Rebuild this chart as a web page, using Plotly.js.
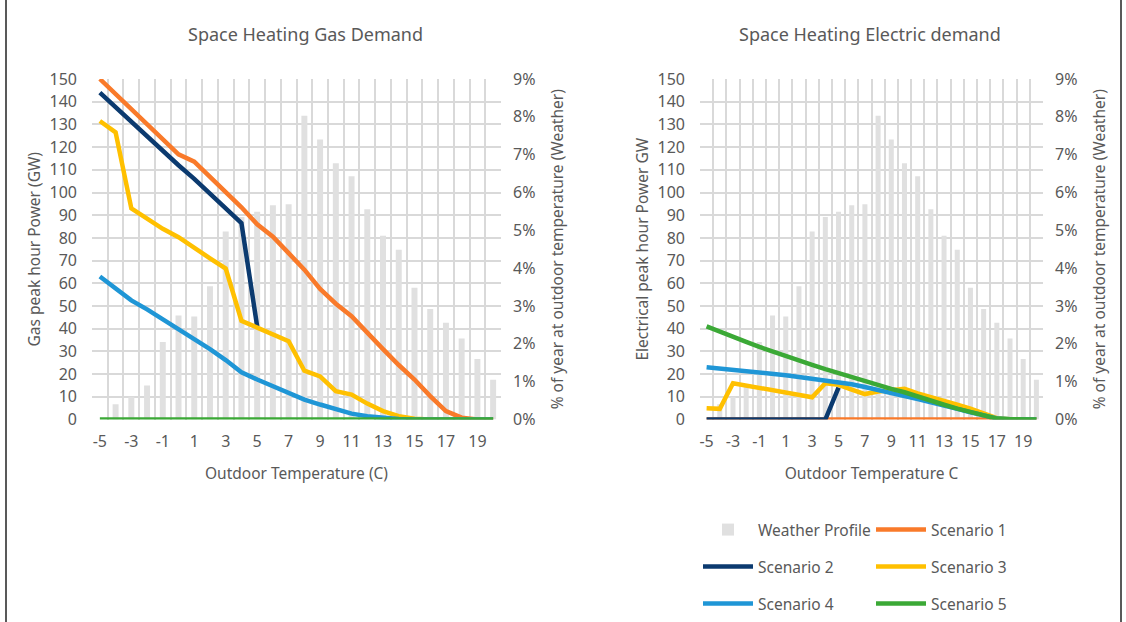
<!DOCTYPE html>
<html>
<head>
<meta charset="utf-8">
<script src="https://cdn.plot.ly/plotly-3.0.1.min.js"></script>
<style>html,body{margin:0;padding:0;background:#fff;overflow:hidden;}#chart{width:1126px;height:622px;}</style>
</head>
<body>
<div id="chart"></div>
<script>
// Outdoor temperature categories (C)
const temps = [-5,-4,-3,-2,-1,0,1,2,3,4,5,6,7,8,9,10,11,12,13,14,15,16,17,18,19,20];
const tickTemps = [-5,-3,-1,1,3,5,7,9,11,13,15,17,19];
const tickLabels = ['-5','-3','-1','1','3','5','7','9','11','13','15','17','19'];

// Weather profile: share of year at each outdoor temperature
const weatherProfile = [0.000,0.004,0.006,0.009,0.0205,0.0275,0.0272,0.0352,0.0497,0.0535,0.0549,0.0566,0.0569,0.0803,0.0740,0.0677,0.0643,0.0556,0.0486,0.0449,0.0348,0.0292,0.0256,0.0214,0.0160,0.0105];

// Space heating gas demand (GW)
const gasS1 = [150,143.3,136.6,130,123.3,116.8,113.6,107,100.5,93.5,86,80.5,73.3,66,57.5,51,45.5,38,31,24,17.6,10.3,3.7,0.8,0,0];
const gasS2 = [144,137.5,131,124.5,118,112,106,99.5,92.5,86.5,41,null,null,null,null,null,null,null,null,null,null,null,null,null,null,null];
const gasS3 = [131.5,126.5,93,88.5,84,80.3,75.5,71,66.5,43.5,40.5,37.5,34.5,21.5,19,12.5,11,7,3.7,1.5,0.3,0,0,0,0,0];
const gasS4 = [63,58,52.5,48.5,44.2,39.8,35.5,31,26.2,20.8,17.6,14.5,11.5,8.8,6.6,4.4,2.6,1.4,0.6,0.2,0,0,0,0,0,0];
const gasS5 = [0,0,0,0,0,0,0,0,0,0,0,0,0,0,0,0,0,0,0,0,0,0,0,0,0,0];

// Space heating electric demand (GW)
const elecS1 = [0,0,0,0,0,0,0,0,0,0,0,0,0,0,0,0,0,0,0,0,0,0,0,0,0,0];
const elecS2 = [0,0,0,0,0,0,0,0,0,0,14,null,null,null,null,null,null,null,null,null,null,null,null,null,null,null];
const elecS3 = [5,4.7,16,15,13.8,12.8,12,11,9.8,16,15.3,13.2,11.2,12.3,13,13.5,11.5,10,8.2,6.5,4.8,2.5,0.6,0.1,0,0];
const elecS4 = [23,22.5,22,21.5,20.8,20.2,19.5,18.7,17.9,17.2,16.5,15.5,14.3,12.8,11.5,10.3,9,7.7,6.2,4.7,3.2,1.8,0.5,0.1,0,0];
const elecS5 = [41,38.6,36.4,34.2,32,29.9,27.9,26,24.1,22.2,20.4,18.6,16.9,15.2,13.5,12,10,8.2,6.5,4.8,3.5,1.8,0.4,0.1,0,0];

const seriesNames = ['Scenario 1','Scenario 2','Scenario 3','Scenario 4','Scenario 5'];
const seriesColors = ['#F97A2A','#0B3A6F','#FFC000','#1F96D6','#3BA936'];
const legendOf = ['legend','legend2','legend2','legend3','legend3'];

const gasSeries = [gasS1,gasS2,gasS3,gasS4,gasS5];
const elecSeries = [elecS1,elecS2,elecS3,elecS4,elecS5];

const FONT = 'Noto Sans, Open Sans, sans-serif';
const TXT = '#595959';
const GRID = '#d9d9d9';
const BAR = '#e0e0e0';

const traces = [];
traces.push({type:'bar', name:'Weather Profile', x:temps, y:weatherProfile, xaxis:'x', yaxis:'y',
  marker:{color:BAR}, width:0.38, showlegend:false, legend:'legend', hoverinfo:'skip'});
gasSeries.forEach((s,i)=>traces.push({type:'scatter', mode:'lines', name:seriesNames[i], x:temps, y:s,
  xaxis:'x', yaxis:'y2', line:{color:seriesColors[i], width:4.5}, showlegend:false, legend:legendOf[i]}));
traces.push({type:'bar', name:'Weather Profile', x:temps, y:weatherProfile, xaxis:'x2', yaxis:'y3',
  marker:{color:BAR}, width:0.38, showlegend:true, legend:'legend'});
elecSeries.forEach((s,i)=>traces.push({type:'scatter', mode:'lines', name:seriesNames[i], x:temps, y:s,
  xaxis:'x2', yaxis:'y4', line:{color:seriesColors[i], width:4.5}, showlegend:true, legend:legendOf[i]}));

const yDom = [1-419.5/622, 1-79/622];
function xAx(dom, anchor, title){
  return {domain:dom, anchor:anchor, range:[-5.5,20.5], tickvals:tickTemps, ticktext:tickLabels, ticks:'', showgrid:false,
    zeroline:false, showline:false, automargin:false, ticklabelstandoff:10, tickfont:{size:16,color:TXT}, fixedrange:true,
    minor:{tick0:-5.5, dtick:1, showgrid:true, gridcolor:GRID, gridwidth:2, ticks:''},
    title:{text:title, font:{size:15.5,color:TXT}, standoff:17}};
}
function pctAx(anchor){
  return {domain:yDom, anchor:anchor, side:'right', range:[0,0.09], dtick:0.01, tickformat:'.0%',
    showgrid:false, zeroline:false, ticks:'', automargin:false, ticklabelstandoff:11, tickfont:{size:16,color:TXT},
    title:{text:'% of year at outdoor temperature (Weather)', font:{size:15.5,color:TXT}, standoff:17}};
}
function gwAx(anchor, overlay, title){
  return {domain:yDom, anchor:anchor, overlaying:overlay, side:'left', range:[0,150], dtick:10,
    showgrid:true, gridcolor:GRID, gridwidth:2, zeroline:false, ticks:'', automargin:false, ticklabelstandoff:14,
    tickfont:{size:16,color:TXT}, title:{text:title, font:{size:15.5,color:TXT}, standoff:5}};
}
function leg(yrow){
  return {x:698/1126, y:yrow, xanchor:'left', yanchor:'middle', orientation:'h', entrywidth:108,
    entrywidthmode:'pixels', itemwidth:50, font:{size:15.5,color:TXT}, bgcolor:'rgba(0,0,0,0)', traceorder:'normal'};
}

const layout = {
  width:1126, height:622, margin:{l:0,r:0,t:0,b:0,autoexpand:false}, paper_bgcolor:'#fff', plot_bgcolor:'rgba(0,0,0,0)',
  font:{family:FONT, color:TXT, size:15}, barmode:'overlay', hovermode:false,
  xaxis: xAx([92/1126, 501/1126], 'y', 'Outdoor Temperature (C)'),
  yaxis: pctAx('x'),
  yaxis2: gwAx('x', 'y', 'Gas peak hour Power (GW)'),
  xaxis2: xAx([700/1126, 1043/1126], 'y3', 'Outdoor Temperature C'),
  yaxis3: pctAx('x2'),
  yaxis4: gwAx('x2', 'y3', 'Electrical peak hour Power GW'),
  legend: leg(1-530/622),
  legend2: leg(1-567/622),
  legend3: leg(1-604/622),
  annotations:[
    {text:'Space Heating Gas Demand', xref:'paper', yref:'paper', x:305/1126, y:1-34/622, xanchor:'center', yanchor:'middle', showarrow:false, font:{size:18,color:TXT}},
    {text:'Space Heating Electric demand', xref:'paper', yref:'paper', x:870/1126, y:1-34/622, xanchor:'center', yanchor:'middle', showarrow:false, font:{size:18,color:TXT}}
  ],
  shapes:[
    {type:'line', xref:'paper', yref:'paper', x0:6/1126, x1:6/1126, y0:0, y1:1, line:{color:'#222',width:1.5}},
    {type:'line', xref:'paper', yref:'paper', x0:1121/1126, x1:1121/1126, y0:0, y1:1, line:{color:'#222',width:1.5}}
  ]
};

Plotly.newPlot('chart', traces, layout, {displayModeBar:false, staticPlot:true});
</script>
</body>
</html>
